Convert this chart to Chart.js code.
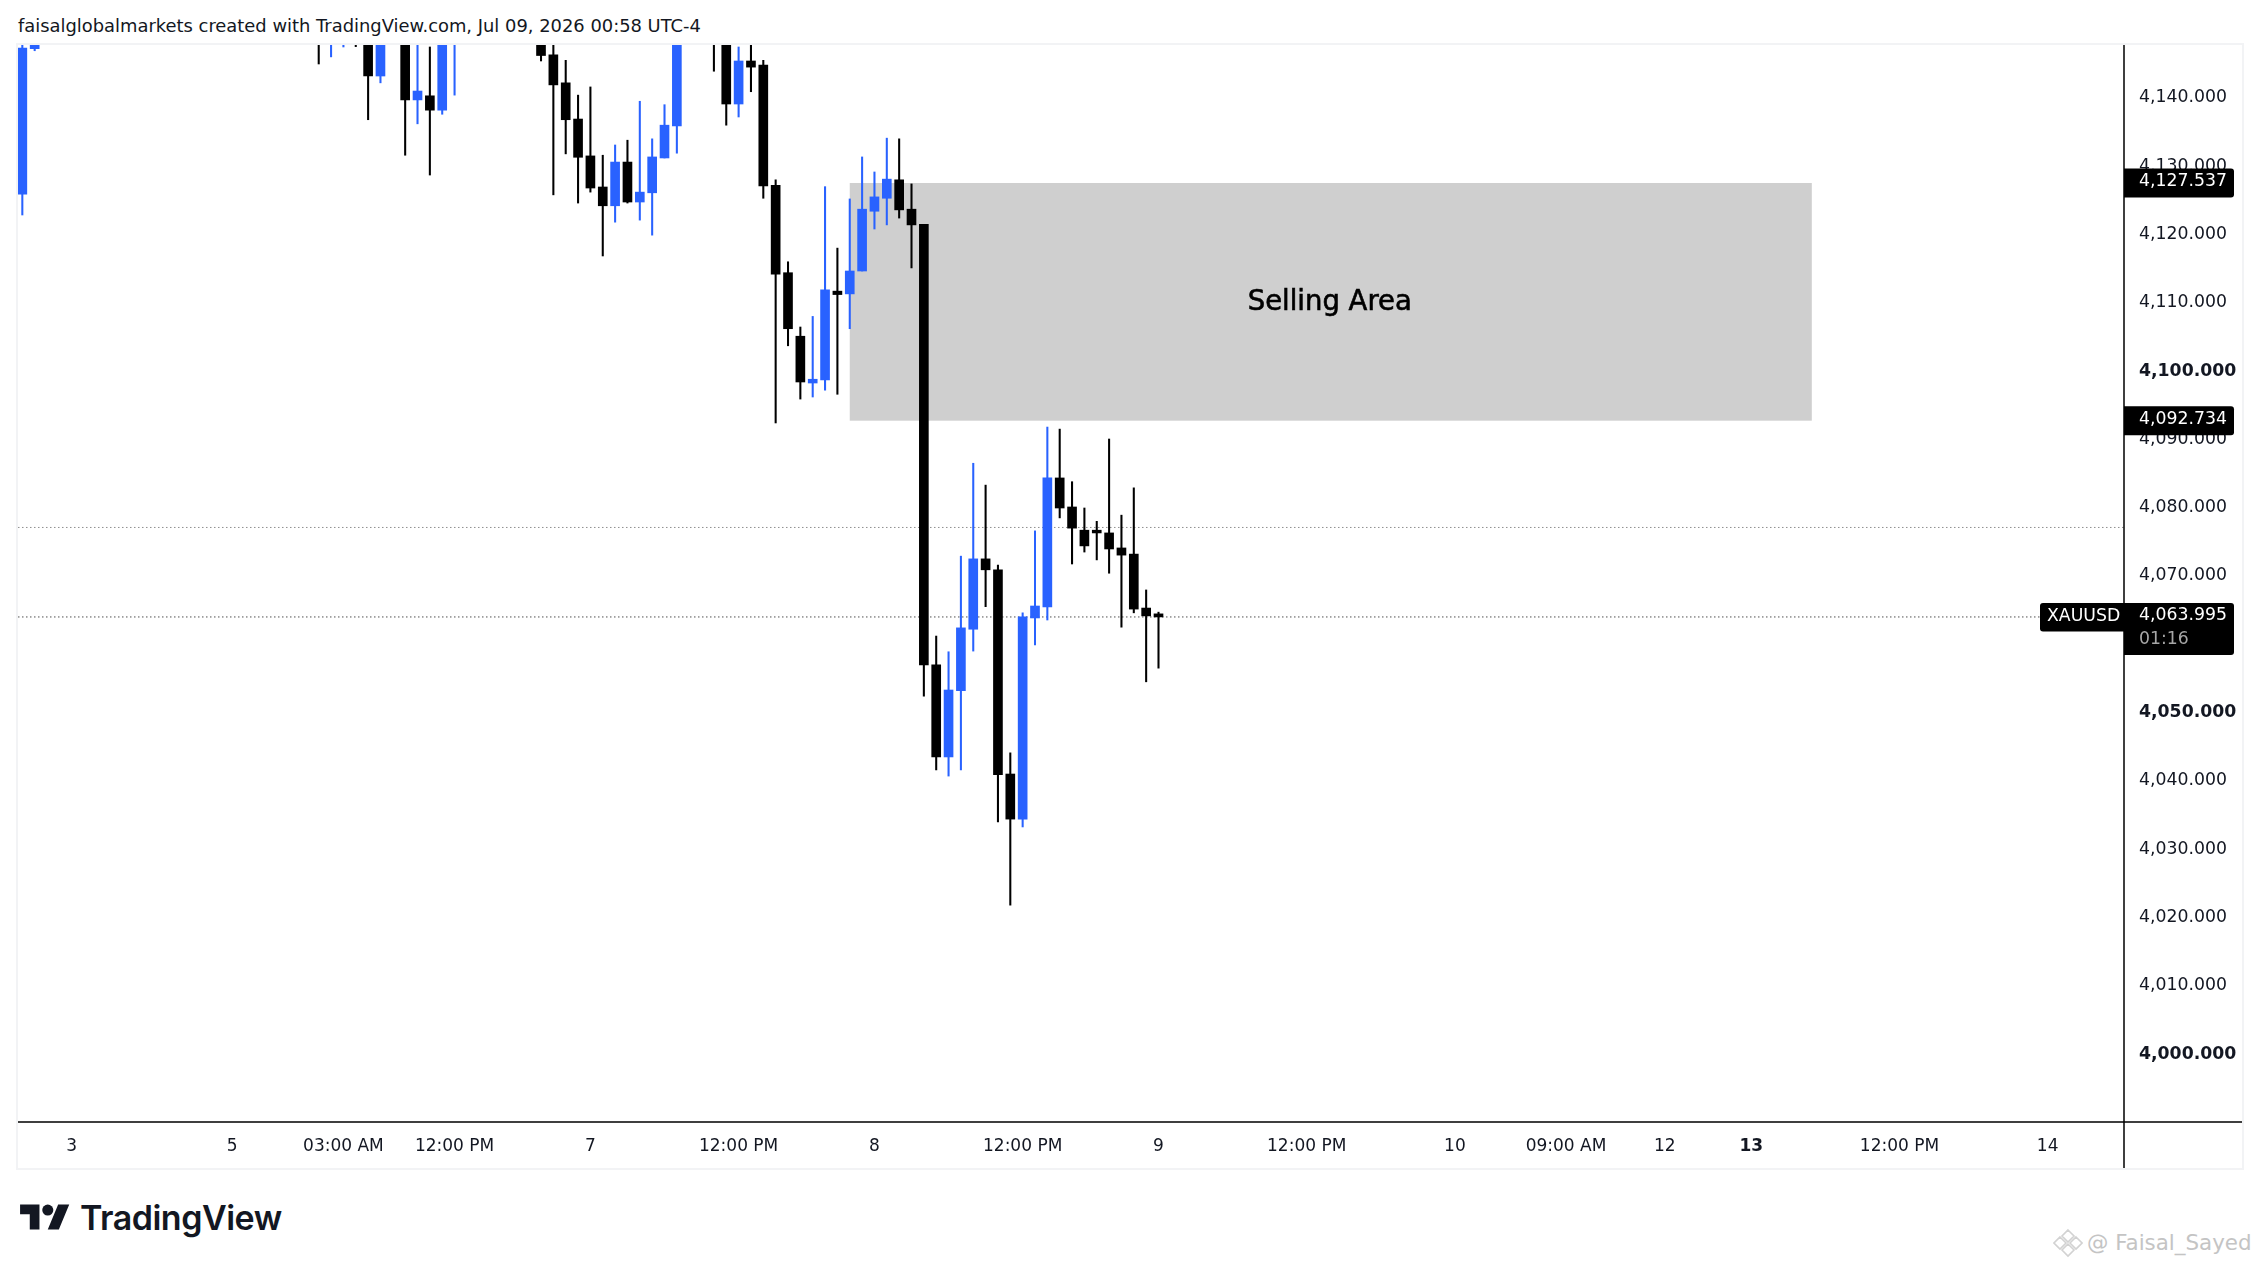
<!DOCTYPE html>
<html lang="en">
<head>
  <meta charset="UTF-8">
  <title>XAUUSD Selling Area</title>
  <script src="https://cdn.jsdelivr.net/npm/chart.js"></script>
  <style>
    html, body { margin: 0; padding: 0; background: #fff; }
    body { width: 2259px; height: 1267px; position: relative; overflow: hidden; font-family: "DejaVu Sans", sans-serif; color: #131722; }
    .header { position: absolute; left: 18px; top: 15px; font-size: 17.9px; line-height: 22px; white-space: nowrap; }
    .frame { position: absolute; left: 16px; top: 43px; width: 2224px; height: 1123px; border: 2px solid #f2f3f5; }
    canvas { display: block; }
    .logo { position: absolute; left: 20px; top: 1199px; }
    .logo-text { position: absolute; left: 80px; top: 1195px; font-family: Inter, sans-serif; font-weight: 600; font-size: 34px; line-height: 46px; letter-spacing: -0.5px; white-space: nowrap; }
    .mark { position: absolute; left: 2053px; top: 1228px; }
    .credit { position: absolute; left: 2087px; top: 1229px; font-size: 21.4px; line-height: 28px; color: #c4c4c4; white-space: nowrap; }
  </style>
</head>
<body>
  <div class="header">faisalglobalmarkets created with TradingView.com, Jul 09, 2026 00:58 UTC-4</div>
  <div class="frame"><canvas id="price-chart" width="2224" height="1123"></canvas></div>

  <svg class="logo" width="50" height="36" viewBox="0 0 36 26" fill="#131722">
    <path d="M14 22H7V11H0V4h14v18zM28 22h-8l7.5-18h8L28 22z"/><circle cx="20" cy="8" r="4"/>
  </svg>
  <div class="logo-text">TradingView</div>

  <svg class="mark" width="30" height="30" viewBox="0 0 30 30" fill="none" stroke="#d2d2d2" stroke-width="1.6">
    <path d="M15 2l6 6-6 6-6-6zM15 16l6 6-6 6-6-6zM7 9l6 6-6 6-6-6zM23 9l6 6-6 6-6-6z"/>
  </svg>
  <div class="credit">@ Faisal_Sayed</div>

  <script>
    // visible candles only, the rest of the history sits above the top of the window
    const barIndex = [0, 1, 24, 25, 26, 27, 28, 29, 31, 32, 33, 34, 35, 42, 43, 44, 45, 46, 47, 48, 49, 50, 51, 52, 53, 56, 57, 58, 59, 60, 61, 62, 63, 64, 65, 66, 67, 68, 69, 70, 71, 72, 73, 74, 75, 76, 77, 78, 79, 80, 81, 82, 83, 84, 85, 86, 87, 88, 89, 90, 91, 92];
    const opens = [4125.9, 4147.2, 4156, 4150, 4150, 4153, 4156, 4143.2, 4153, 4139.7, 4140.3, 4138.2, 4150, 4150, 4146.3, 4142.2, 4136.9, 4131.5, 4126.95, 4124.2, 4130.6, 4124.75, 4126.1, 4131.2, 4135.9, 4153, 4150, 4139.1, 4145.4, 4144.8, 4127.2, 4114.4, 4105.1, 4098.25, 4098.7, 4111.7, 4111.3, 4114.65, 4123.4, 4125.3, 4128, 4123.7, 4121.5, 4056.97, 4043.5, 4053.2, 4062.2, 4072.5, 4070.9, 4041, 4034.4, 4063.85, 4065.45, 4084.35, 4080.1, 4076.7, 4076.7, 4076.3, 4074.1, 4073.2, 4065.3, 4064.45];
    const highs = [4149, 4150, 4158, 4156, 4154, 4155, 4158, 4154, 4156, 4150, 4147.45, 4154, 4155, 4151, 4150, 4145.5, 4140.4, 4141.6, 4131.6, 4133.1, 4133.8, 4139.5, 4134, 4139, 4154, 4155, 4152, 4147.45, 4149, 4145.5, 4128, 4116, 4106.45, 4108, 4127, 4118, 4125.2, 4131.35, 4129.15, 4134.1, 4134, 4127.4, 4121.5, 4061.2, 4058.9, 4072.9, 4086.5, 4083.3, 4071.6, 4044.1, 4064.6, 4076.6, 4091.8, 4091.5, 4083.8, 4079.95, 4078, 4090.05, 4078.9, 4082.9, 4067.95, 4064.7];
    const lows = [4122.85, 4146.9, 4144.96, 4146, 4147.45, 4147.5, 4136.8, 4142.2, 4131.6, 4136.2, 4128.7, 4137.6, 4140.4, 4145.4, 4125.8, 4131.8, 4124.6, 4126.2, 4116.85, 4121.8, 4124.6, 4122.1, 4119.9, 4131.2, 4131.9, 4143.9, 4136, 4137.2, 4140.9, 4125.3, 4092.4, 4103.7, 4095.9, 4096.2, 4097.2, 4096.6, 4106.2, 4114.65, 4120.8, 4121.4, 4122.4, 4115.1, 4052.4, 4041.6, 4040.7, 4041.6, 4059, 4065.5, 4034, 4021.8, 4033.25, 4059.9, 4063.55, 4078.5, 4071.75, 4073.5, 4072.35, 4070.4, 4062.5, 4064.6, 4054.5, 4056.5];
    const closes = [4147.3, 4149, 4152, 4154, 4153, 4150, 4143.2, 4152, 4139.7, 4141, 4138.2, 4152, 4153, 4146.2, 4141.9, 4136.8, 4131.3, 4126.8, 4124.2, 4130.6, 4124.75, 4126.2, 4131.35, 4136, 4152, 4150, 4139.1, 4145.4, 4144.5, 4127.1, 4114.2, 4106.2, 4098.4, 4098.8, 4111.9, 4111.2, 4114.65, 4123.7, 4125.5, 4128.1, 4123.6, 4121.4, 4056.97, 4043.5, 4053.3, 4062.4, 4072.5, 4070.9, 4040.9, 4034.4, 4064, 4065.6, 4084.35, 4079.95, 4077, 4074.4, 4076.3, 4073.95, 4073.05, 4065.15, 4064.15, 4064];

    const xTickPositions = [4, 17, 26, 35, 46, 58, 69, 81, 92, 104, 116, 125, 133, 140, 152, 164];
    const xTickLabels = ['3', '5', '03:00 AM', '12:00 PM', '7', '12:00 PM', '8', '12:00 PM', '9', '12:00 PM', '10', '09:00 AM', '12', '13', '12:00 PM', '14'];
    const boldXLabels = ['13'];

    const yMin = 3990.05;
    const yMax = 4147.74;
    const xMin = -0.35;
    const xMax = 170.18;

    const zoneTop = 4127.537;
    const zoneBottom = 4092.734;
    const zoneStart = 67;
    const zoneEnd = 144.9;
    const zoneLabel = 'Selling Area';

    const lastPrice = 4063.995;
    const prevLevel = 4077.1;
    const symbol = 'XAUUSD';
    const countdown = '01:16';

    const BLUE = '#2962ff';
    const BLACK = '#000000';
    const colors = opens.map((o, i) => closes[i] >= o ? BLUE : BLACK);
    const money = v => v.toLocaleString('en-US', { minimumFractionDigits: 3, maximumFractionDigits: 3 });
    const FONT = '"DejaVu Sans", sans-serif';

    function levelLine(y, color) {
      return {
        type: 'line',
        data: [{ x: xMin, y: y }, { x: xMax, y: y }],
        borderColor: color,
        borderWidth: 1,
        borderDash: [1.5, 2.5],
        pointRadius: 0,
        order: 3
      };
    }

    // box on the price axis, rounded on its right side only
    function priceBox(ctx, left, top, w, h, radii) {
      ctx.fillStyle = '#000';
      ctx.beginPath();
      ctx.roundRect(left, top, w, h, radii);
      ctx.fill();
    }

    const overlay = {
      id: 'overlay',
      beforeDatasetsDraw(chart) {
        const { ctx, scales: { x, y } } = chart;
        const l = x.getPixelForValue(zoneStart);
        const r = x.getPixelForValue(zoneEnd);
        const t = y.getPixelForValue(zoneTop);
        const b = y.getPixelForValue(zoneBottom);
        ctx.save();
        ctx.fillStyle = '#cfcfcf';
        ctx.fillRect(l, t, r - l, b - t);
        ctx.fillStyle = '#000';
        ctx.strokeStyle = '#000';
        ctx.lineWidth = 0.6;
        ctx.font = '27.5px ' + FONT;
        ctx.textAlign = 'center';
        ctx.textBaseline = 'middle';
        ctx.fillText(zoneLabel, (l + r) / 2 - 1, (t + b) / 2 + 1);
        ctx.strokeText(zoneLabel, (l + r) / 2 - 1, (t + b) / 2 + 1);
        ctx.restore();
      },
      afterDraw(chart) {
        const { ctx, chartArea, scales: { y } } = chart;
        const ax = chartArea.right;
        ctx.save();
        ctx.strokeStyle = '#000';
        ctx.lineWidth = 1.5;
        ctx.beginPath();
        ctx.moveTo(0, chartArea.bottom);
        ctx.lineTo(chart.width, chartArea.bottom);
        ctx.moveTo(ax, 0);
        ctx.lineTo(ax, chart.height);
        ctx.stroke();

        ctx.font = '17.3px ' + FONT;
        ctx.textBaseline = 'middle';
        ctx.textAlign = 'left';
        [zoneTop, zoneBottom].forEach(v => {
          const py = y.getPixelForValue(v);
          priceBox(ctx, ax, py - 14.5, 110, 29, [0, 3, 3, 0]);
          ctx.fillStyle = '#fff';
          ctx.fillText(money(v), ax + 15, py - 1);
        });

        const py = y.getPixelForValue(lastPrice);
        priceBox(ctx, ax, py - 14, 110, 52, [0, 3, 3, 0]);
        priceBox(ctx, ax - 84, py - 14, 84, 28.5, [3, 0, 0, 3]);
        ctx.fillStyle = '#fff';
        ctx.fillText(money(lastPrice), ax + 15, py - 1);
        ctx.fillText(symbol, ax - 77, py);
        ctx.fillStyle = '#a6a6a6';
        ctx.fillText(countdown, ax + 15, py + 23);
        ctx.restore();
      }
    };

    new Chart(document.getElementById('price-chart'), {
      type: 'bar',
      data: {
        datasets: [
          levelLine(prevLevel, '#8f8f8f'),
          levelLine(lastPrice, '#4f4f4f'),
          {
            data: barIndex.map((x, i) => ({ x: x, y: [lows[i], highs[i]] })),
            backgroundColor: colors,
            barThickness: 1.4,
            grouped: false,
            order: 2
          },
          {
            data: barIndex.map((x, i) => ({ x: x, y: [opens[i], closes[i]] })),
            backgroundColor: colors,
            barThickness: 9,
            grouped: false,
            order: 1
          }
        ]
      },
      options: {
        responsive: false,
        animation: false,
        devicePixelRatio: 1,
        layout: { padding: 0 },
        plugins: { legend: { display: false }, tooltip: { enabled: false } },
        scales: {
          x: {
            type: 'linear',
            offset: false,
            min: xMin,
            max: xMax,
            grid: { display: false, drawTicks: false },
            border: { display: false },
            afterBuildTicks: scale => { scale.ticks = xTickPositions.map(v => ({ value: v })); },
            afterFit: scale => {
              scale.height = 46;
              scale.paddingLeft = scale.paddingRight = 0;
            },
            ticks: {
              autoSkip: false,
              maxRotation: 0,
              padding: 14,
              color: '#131722',
              callback: v => xTickLabels[xTickPositions.indexOf(v)],
              font: c => ({
                family: FONT,
                size: 17,
                weight: c.tick && boldXLabels.includes(xTickLabels[xTickPositions.indexOf(c.tick.value)]) ? 'bold' : 'normal'
              })
            }
          },
          y: {
            position: 'right',
            min: yMin,
            max: yMax,
            grid: { display: false, drawTicks: false },
            border: { display: false },
            afterFit: scale => {
              scale.width = 118;
              scale.paddingTop = scale.paddingBottom = 0;
            },
            ticks: {
              stepSize: 10,
              includeBounds: false,
              padding: 15,
              color: '#131722',
              callback: v => money(v),
              font: c => ({
                family: FONT,
                size: 17.3,
                weight: c.tick && c.tick.value % 50 === 0 ? 'bold' : 'normal'
              })
            }
          }
        }
      },
      plugins: [overlay]
    });
  </script>
</body>
</html>
